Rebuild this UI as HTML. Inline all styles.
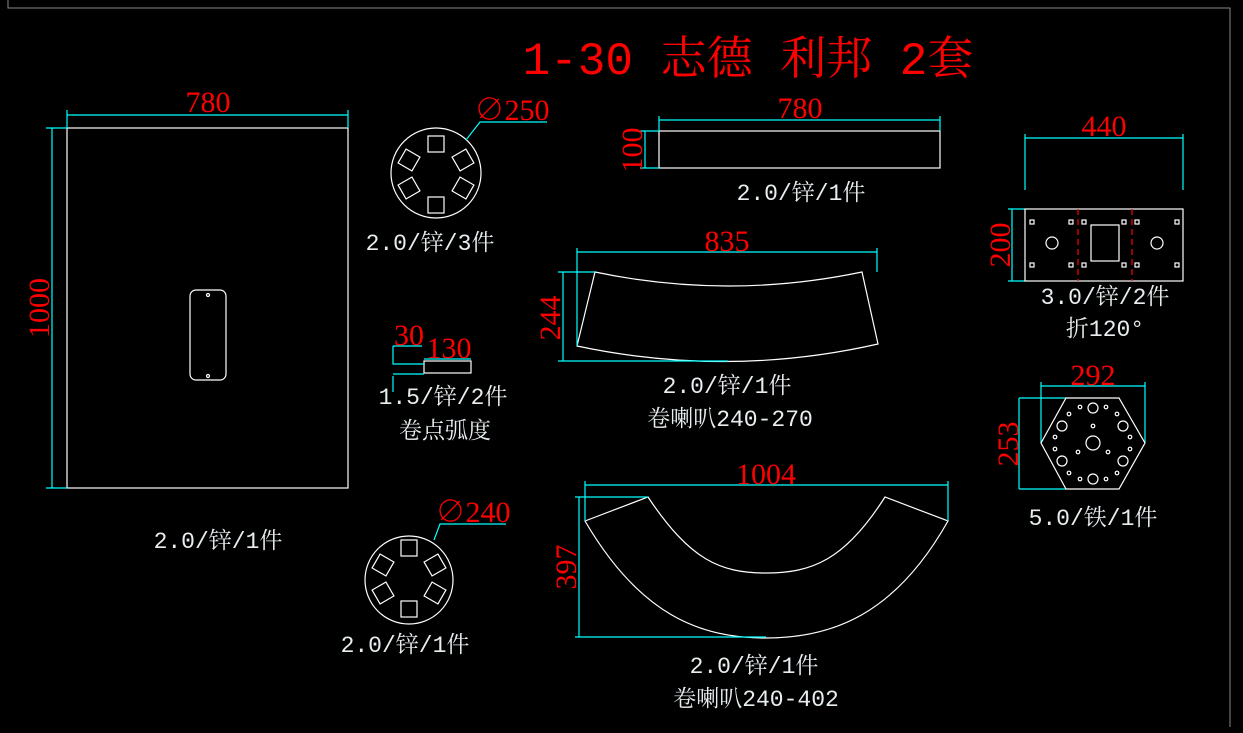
<!DOCTYPE html>
<html><head><meta charset="utf-8"><style>
html,body{margin:0;padding:0;background:#000;}
svg{display:block}
.w{fill:#e8eef0;font-family:"Liberation Mono","Noto Serif CJK SC",monospace;font-size:23px;text-anchor:middle}
.r{fill:#f00;font-family:"Liberation Serif","Noto Serif CJK SC",serif;font-size:30px;text-anchor:middle}
.s{stroke:#fff;stroke-width:1.2;fill:none}
.c{stroke:#0ff;stroke-width:1.2;fill:none}
</style></head><body>
<svg width="1243" height="733" viewBox="0 0 1243 733">
<rect width="1243" height="733" fill="#000"/>
<polyline points="8,0 8,8 1230,8 1230,727 " stroke="#888" fill="none"/>
<text x="748" y="74" fill="#f00" style="font-family:'Liberation Mono','Noto Serif CJK SC',monospace;font-size:46px" text-anchor="middle">1-30 志德 利邦 2套</text>

<rect class="s" x="67" y="128" width="281" height="360"/>
<rect class="s" x="190" y="290" width="36" height="90" rx="6"/>
<circle class="s" cx="208" cy="295" r="1.5"/><circle class="s" cx="208" cy="376" r="1.5"/>
<path class="c" d="M67,115H348M67,110V128M348,110V128M52,128V488M46,128H67M46,488H67"/>
<text class="r" x="208" y="112">780</text>
<text class="r" transform="translate(49,308) rotate(-90)">1000</text>
<text class="w" x="218" y="548">2.0/锌/1件</text>

<circle class="s" cx="436" cy="173" r="45"/>
<g class="s">
<rect x="428" y="136" width="16" height="16"/><rect x="428" y="197" width="16" height="16"/>
<rect x="-8" y="-8" width="16" height="16" transform="translate(409,160) rotate(30)"/>
<rect x="-8" y="-8" width="16" height="16" transform="translate(463,160) rotate(-30)"/>
<rect x="-8" y="-8" width="16" height="16" transform="translate(409,188) rotate(-30)"/>
<rect x="-8" y="-8" width="16" height="16" transform="translate(463,188) rotate(30)"/>
</g>
<path class="c" d="M547,122H480L466,140"/>
<text class="r" x="512" y="120">∅250</text>
<text class="w" x="430" y="250">2.0/锌/3件</text>

<rect class="s" x="424" y="361" width="47" height="12"/>
<path class="c" d="M393,346V364H424M393,376V392M393,374H424M424,359H471M393,346H422"/>
<text class="r" x="409" y="345">30</text>
<text class="r" x="449" y="358">130</text>
<text class="w" x="443" y="404">1.5/锌/2件</text>
<text class="w" x="445" y="438">卷点弧度</text>

<circle class="s" cx="409" cy="580" r="44"/>
<g class="s">
<rect x="401" y="540" width="16" height="16"/><rect x="401" y="601" width="16" height="16"/>
<rect x="-8" y="-8" width="16" height="16" transform="translate(383,565) rotate(30)"/>
<rect x="-8" y="-8" width="16" height="16" transform="translate(435,565) rotate(-30)"/>
<rect x="-8" y="-8" width="16" height="16" transform="translate(383,593) rotate(-30)"/>
<rect x="-8" y="-8" width="16" height="16" transform="translate(435,593) rotate(30)"/>
</g>
<path class="c" d="M506,524H440L434,540"/>
<text class="r" x="473" y="522">∅240</text>
<text class="w" x="405" y="652">2.0/锌/1件</text>

<rect class="s" x="659" y="131" width="281" height="37"/>
<path class="c" d="M659,120H940M659,116V131M940,116V131M645,131V168M640,131H659M640,168H659"/>
<text class="r" x="800" y="118">780</text>
<text class="r" transform="translate(642,150) rotate(-90)">100</text>
<text class="w" x="801" y="200">2.0/锌/1件</text>

<path class="s" d="M595,272Q728,300 862,272L878,344Q728,378 577,346Z"/>
<path class="c" d="M577,252H877M577,248V346M877,248V272M563,272V361M558,272H595M558,361H728"/>
<text class="r" x="727" y="251">835</text>
<text class="r" transform="translate(560,318) rotate(-90)">244</text>
<text class="w" x="727" y="393">2.0/锌/1件</text>
<text class="w" x="730" y="426">卷喇叭240-270</text>

<path class="s" d="M585,521C640,615 700,638 766,638C832,638 895,615 948,521L885,497C845,560 812,573 766,573C720,573 690,560 648,497Z"/>
<path class="c" d="M585,485H948M585,481V521M948,481V521M579,497V637M575,497H648M575,637H766"/>
<text class="r" x="766" y="484">1004</text>
<text class="r" transform="translate(576,567) rotate(-90)">397</text>
<text class="w" x="754" y="673">2.0/锌/1件</text>
<text class="w" x="756" y="706">卷喇叭240-402</text>

<path class="c" d="M1025,138H1183M1025,134V190M1183,134V190M1012,209V281M1008,209H1025M1008,281H1025"/>
<text class="r" x="1104" y="136">440</text>
<text class="r" transform="translate(1010,245) rotate(-90)">200</text>
<rect class="s" x="1025" y="209" width="158" height="72"/>
<path d="M1078,209V281M1132,209V281" stroke="#f00" stroke-width="1.2" stroke-dasharray="6,4"/>
<rect class="s" x="1091" y="225" width="28" height="36"/>
<circle class="s" cx="1052" cy="243" r="6"/><circle class="s" cx="1157" cy="243" r="6"/>
<g class="s">
<rect x="1030" y="220" width="4" height="4"/><rect x="1069" y="220" width="4" height="4"/><rect x="1082" y="220" width="4" height="4"/><rect x="1122" y="220" width="4" height="4"/><rect x="1135" y="220" width="4" height="4"/><rect x="1175" y="220" width="4" height="4"/>
<rect x="1030" y="263" width="4" height="4"/><rect x="1069" y="263" width="4" height="4"/><rect x="1082" y="263" width="4" height="4"/><rect x="1122" y="263" width="4" height="4"/><rect x="1135" y="263" width="4" height="4"/><rect x="1175" y="263" width="4" height="4"/>
</g>
<text class="w" x="1105" y="304">3.0/锌/2件</text>
<text class="w" x="1105" y="336">折120°</text>

<path class="c" d="M1041,386H1145M1041,382V443M1145,382V443M1019,398V489M1019,398H1066M1019,489H1066"/>
<text class="r" x="1093" y="385">292</text>
<text class="r" transform="translate(1018,444) rotate(-90)">253</text>
<polygon class="s" points="1066,398 1119,398 1145,443 1119,489 1066,489 1041,443"/>
<g class="s">
<circle cx="1093" cy="443" r="7"/>
<circle cx="1093" cy="408" r="5"/><circle cx="1093" cy="479" r="5"/>
<circle cx="1062" cy="426" r="5"/><circle cx="1123" cy="426" r="5"/>
<circle cx="1062" cy="461" r="5"/><circle cx="1123" cy="461" r="5"/>
<circle cx="1080" cy="407" r="1.8"/><circle cx="1106" cy="407" r="1.8"/>
<circle cx="1069" cy="414" r="1.8"/><circle cx="1117" cy="414" r="1.8"/>
<circle cx="1055" cy="437" r="1.8"/><circle cx="1130" cy="437" r="1.8"/>
<circle cx="1055" cy="449" r="1.8"/><circle cx="1130" cy="449" r="1.8"/>
<circle cx="1069" cy="473" r="1.8"/><circle cx="1117" cy="473" r="1.8"/>
<circle cx="1080" cy="479" r="1.8"/><circle cx="1106" cy="479" r="1.8"/>
<circle cx="1093" cy="426" r="1.8"/><circle cx="1078" cy="452" r="1.8"/><circle cx="1108" cy="452" r="1.8"/>
</g>
<text class="w" x="1093" y="525">5.0/铁/1件</text>
</svg>
</body></html>
